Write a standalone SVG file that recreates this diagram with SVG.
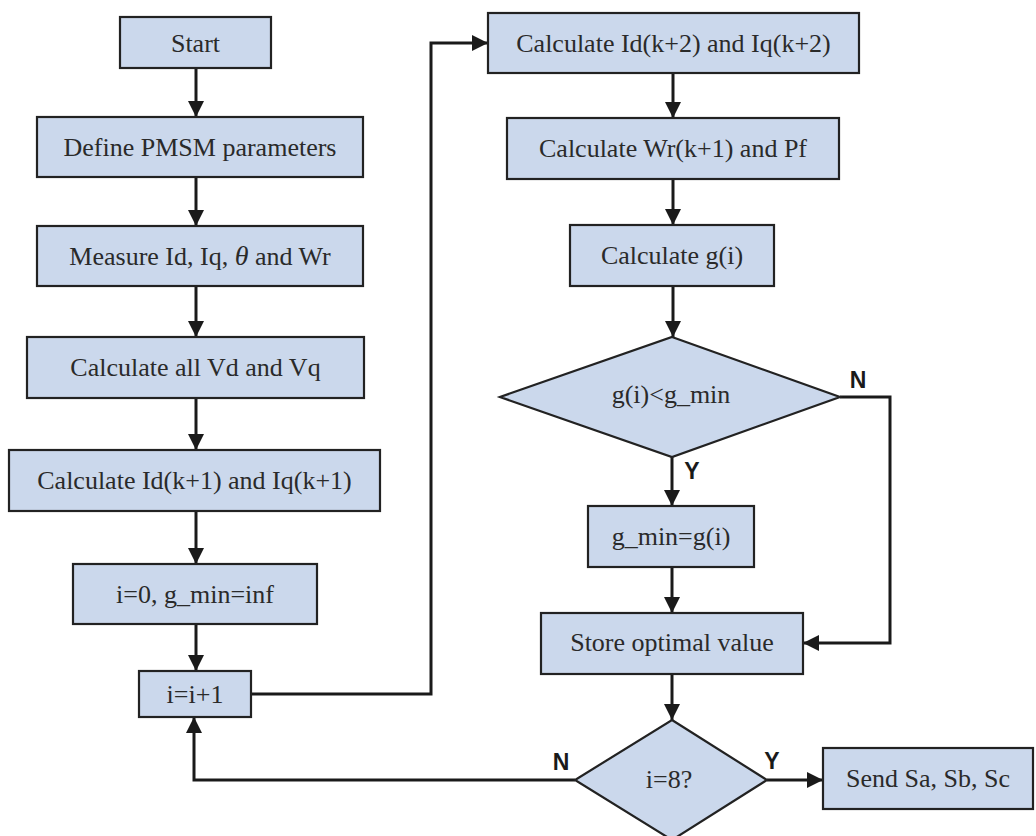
<svg xmlns="http://www.w3.org/2000/svg" width="1036" height="836" viewBox="0 0 1036 836">
<defs>
<style>
.box{fill:#cbd8ec;stroke:#222;stroke-width:2.2}
.t{font-family:"Liberation Serif","Times New Roman",serif;font-size:26px;fill:#2a2a2a;text-anchor:middle}
.lbl{font-family:"Liberation Sans",Arial,sans-serif;font-size:23px;font-weight:bold;fill:#1a1a1a;text-anchor:middle}
.c{fill:none;stroke:#1a1a1a;stroke-width:3;marker-end:url(#ah)}
.cn{fill:none;stroke:#1a1a1a;stroke-width:3}
</style>
<marker id="ah" markerUnits="userSpaceOnUse" markerWidth="16" markerHeight="16" viewBox="0 0 16 16" refX="16" refY="8" orient="auto">
<path d="M0,0 L16,8 L0,16 z" fill="#1a1a1a"/>
</marker>
</defs>
<rect width="1036" height="836" fill="#ffffff"/>
<g id="connectors">
<path class="c" d="M196,68 V117"/>
<path class="c" d="M196,177 V226"/>
<path class="c" d="M196,286 V337"/>
<path class="c" d="M196,398 V450"/>
<path class="c" d="M196,511 V564"/>
<path class="c" d="M196,624 V671"/>
<path class="c" d="M251,694 H431 V43 H488"/>
<path class="c" d="M673,73 V118"/>
<path class="c" d="M673,179 V225"/>
<path class="c" d="M673,286 V337"/>
<path class="c" d="M672,457 V506"/>
<path class="c" d="M672,567 V613"/>
<path class="c" d="M840,397 H890 V643 H803"/>
<path class="c" d="M672,674 V720"/>
<path class="c" d="M767,780 H823"/>
<path class="c" d="M575,780 H194 V717"/>
</g>
<g id="start"><rect class="box" x="120" y="17" width="151" height="51"/><text class="t" x="195.5" y="52">Start</text></g>
<g id="define"><rect class="box" x="37" y="117" width="326" height="60"/><text class="t" x="200" y="156">Define PMSM parameters</text></g>
<g id="measure"><rect class="box" x="37" y="226" width="326" height="60"/><text class="t" x="200" y="265">Measure Id, Iq, <tspan font-style="italic" font-size="28">θ</tspan> and Wr</text></g>
<g id="calcV"><rect class="box" x="27" y="337" width="337" height="61"/><text class="t" x="195.5" y="376">Calculate all Vd and Vq</text></g>
<g id="calcI1"><rect class="box" x="9" y="450" width="371" height="61"/><text class="t" x="194.5" y="489">Calculate Id(k+1) and Iq(k+1)</text></g>
<g id="init"><rect class="box" x="73" y="564" width="244" height="60"/><text class="t" x="195" y="603">i=0, g_min=inf</text></g>
<g id="incr"><rect class="box" x="139" y="671" width="112" height="46"/><text class="t" x="195" y="703">i=i+1</text></g>
<g id="calcI2"><rect class="box" x="488" y="13" width="371" height="60"/><text class="t" x="673.5" y="52">Calculate Id(k+2) and Iq(k+2)</text></g>
<g id="calcW"><rect class="box" x="507" y="118" width="332" height="61"/><text class="t" x="673" y="157">Calculate Wr(k+1) and Pf</text></g>
<g id="calcG"><rect class="box" x="570" y="225" width="204" height="61"/><text class="t" x="672" y="264">Calculate g(i)</text></g>
<g id="cmp"><polygon class="box" points="672,337 840,397 672,457 500,397"/><text class="t" x="671" y="403">g(i)&lt;g_min</text></g>
<g id="update"><rect class="box" x="588" y="506" width="166" height="61"/><text class="t" x="671" y="545">g_min=g(i)</text></g>
<g id="store"><rect class="box" x="541" y="613" width="262" height="61"/><text class="t" x="672" y="651">Store optimal value</text></g>
<g id="check"><polygon class="box" points="672,720 767,780 672,840 575,780"/><text class="t" x="669" y="788">i=8?</text></g>
<g id="send"><rect class="box" x="823" y="748" width="210" height="61"/><text class="t" x="928" y="787">Send Sa, Sb, Sc</text></g>
<g id="labels">
<text class="lbl" x="858" y="388">N</text>
<text class="lbl" x="692" y="479">Y</text>
<text class="lbl" x="561" y="770">N</text>
<text class="lbl" x="772" y="769">Y</text>
</g>
</svg>
